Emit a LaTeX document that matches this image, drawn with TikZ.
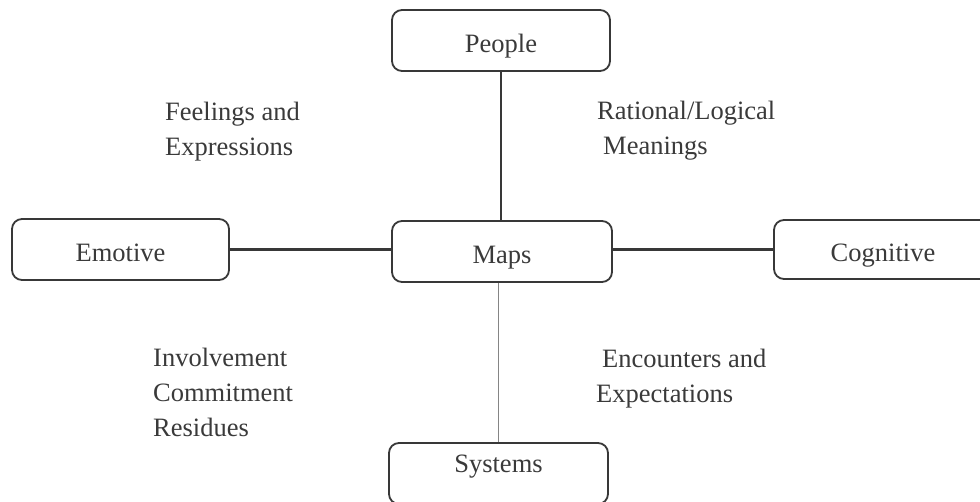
\documentclass[tikz,border=0pt]{standalone}
\usepackage{fontspec}
\setmainfont{Liberation Serif}
\definecolor{ink}{HTML}{3A3A3A}
\definecolor{edge}{HTML}{383838}
\definecolor{thinline}{HTML}{858585}
\begin{document}
\begin{tikzpicture}[x=1pt,y=-1pt,
  every node/.style={text=ink, font=\fontsize{26.5}{35}\selectfont},
  box/.style={draw=edge, line width=1.8pt, rounded corners=10pt,
    minimum width=218pt, minimum height=61pt, inner sep=0pt,
    text height=24pt, text depth=0pt},
  link/.style={draw=edge, line width=2.2pt},
  faint/.style={draw=thinline, line width=1pt},
  note/.style={align=left, anchor=base west, inner sep=0pt}]
  \useasboundingbox (0,0) rectangle (980,501);

  % the five boxes
  \node[box] (people) at (501,40.5) {People};
  \node[box, minimum width=217pt] (emotive) at (120.5,249.5) {Emotive};
  \node[box, minimum width=220pt] (maps) at (502,251.5) {Maps};
  \node[box, minimum height=59pt] (cognitive) at (883,249.5) {Cognitive};
  \node[box, minimum width=219pt, text height=0pt, text depth=3pt] (systems) at (498.5,473.5) {Systems};

  % connectors
  \draw[link] (people.south) -- (people.south |- maps.north);
  \draw[link] (emotive.east) -- (emotive.east -| maps.west);
  \draw[link] (maps.east |- cognitive.west) -- (cognitive.west);
  \draw[faint] (systems.north) -- (systems.north |- maps.south);

  % quadrant captions (anchored on the baseline of their last line)
  \node[note] (feel) at (165,155) {Feelings and\\Expressions};
  \node[note] (rational) at (597,154) {Rational/Logical\\\hspace*{6pt}Meanings};
  \node[note] (involve) at (153,436) {Involvement\\Commitment\\Residues};
  \node[note] (encounter) at (596,402) {\hspace*{6pt}Encounters and\\Expectations};
\end{tikzpicture}
\end{document}
